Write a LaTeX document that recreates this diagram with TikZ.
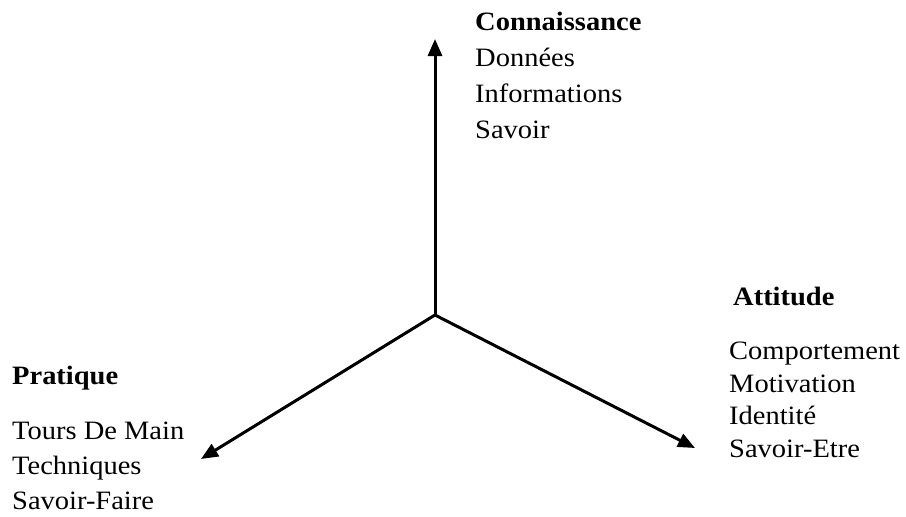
\documentclass[tikz,border=0pt]{standalone}
\usepackage{fontspec}
\setmainfont{Liberation Serif}[FakeStretch=1.075]
\usetikzlibrary{arrows.meta}
\begin{document}
\begin{tikzpicture}[x=1pt,y=-1pt,
  lbl/.style={anchor=base west,inner sep=0pt,font=\fontsize{26.5}{32}\selectfont},
  ttl/.style={lbl,font=\fontsize{26.5}{32}\selectfont\bfseries},
  axis/.style={line width=3pt,-{Triangle[length=17pt,width=14pt]}}]
\useasboundingbox (0,0) rectangle (906,517);
\coordinate (c) at (435,315);
\coordinate (up) at (435,39);
\coordinate (lt) at (201,459);
\coordinate (rt) at (695,448);
\draw[axis] (c) -- (up);
\draw[axis] (c) -- (lt);
\draw[axis] (c) -- (rt);
% Connaissance
\node[ttl] (k0) at (475,30) {Connaissance};
\node[lbl] (k1) at (475,66) {Données};
\node[lbl] (k2) at (475,102) {Informations};
\node[lbl] (k3) at (475,138) {Savoir};
% Attitude
\node[ttl] (a0) at (733,305) {Attitude};
\node[lbl] (a1) at (729,359) {Comportement};
\node[lbl] (a2) at (729,392) {Motivation};
\node[lbl] (a3) at (729,424) {Identité};
\node[lbl] (a4) at (729,457) {Savoir-Etre};
% Pratique
\node[ttl] (p0) at (12,384) {Pratique};
\node[lbl] (p1) at (12,439) {Tours De Main};
\node[lbl] (p2) at (12,474) {Techniques};
\node[lbl] (p3) at (12,509) {Savoir-Faire};
\end{tikzpicture}
\end{document}
